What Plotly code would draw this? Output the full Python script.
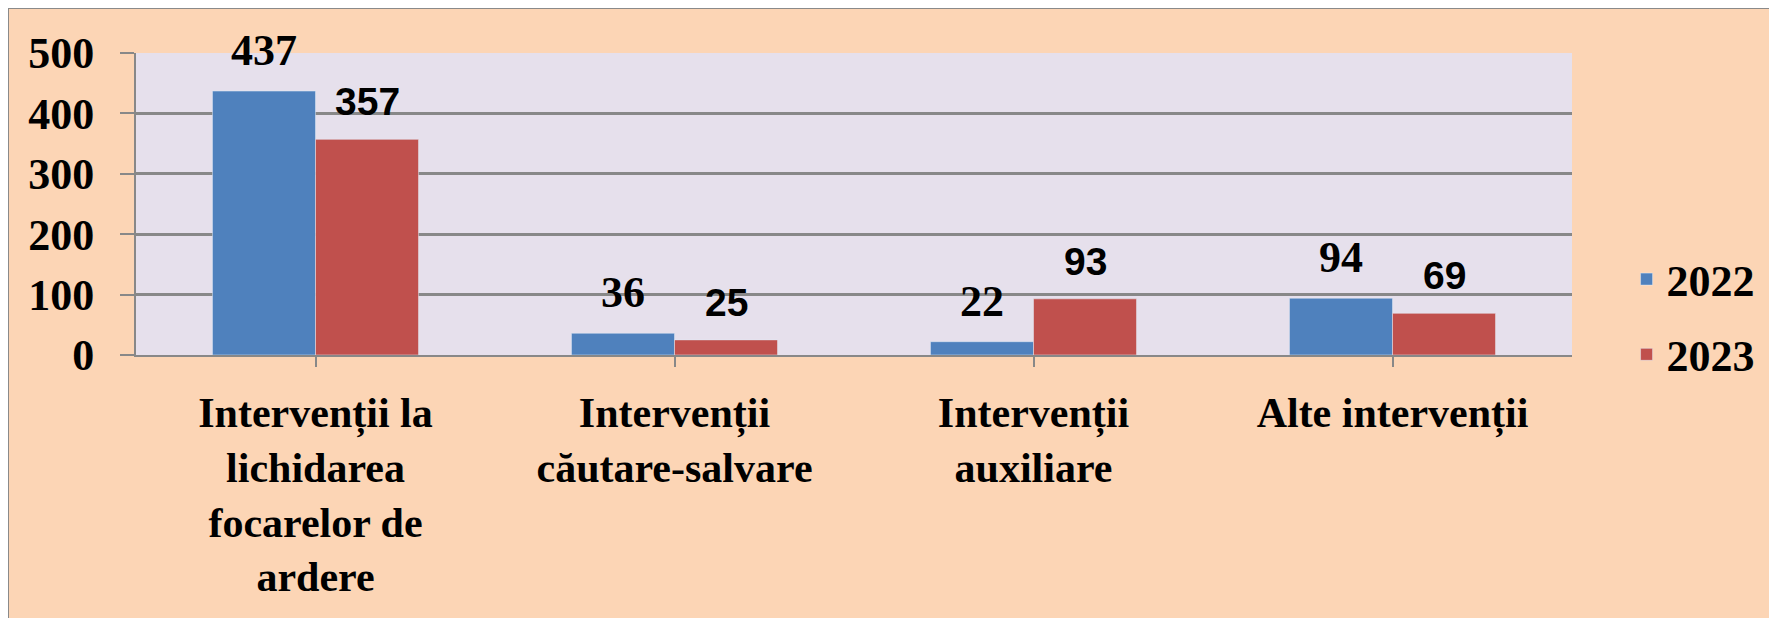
import plotly.graph_objects as go

categories = ["Intervenții la lichidarea focarelor de ardere",
              "Intervenții căutare-salvare",
              "Intervenții auxiliare",
              "Alte intervenții"]
tick_labels = ["Intervenții la<br>lichidarea<br>focarelor de<br>ardere",
               "Intervenții<br>căutare-salvare",
               "Intervenții<br>auxiliare",
               "Alte intervenții"]
v2022 = [437, 36, 22, 94]
v2023 = [357, 25, 93, 69]

blue = "#4F81BD"
red = "#C0504D"
grey = "#888888"
serif = "Liberation Serif"
bargap = 0.426

fig = go.Figure()
fig.add_trace(go.Bar(x=list(range(4)), y=v2022, name="2022", marker_color=blue,
                     legendgroup="a"))
fig.add_trace(go.Bar(x=list(range(4)), y=v2023, name="2023", marker_color=red,
                     legendgroup="b"))

# value labels above the bars
off = (1 - bargap) / 4
for i, v in enumerate(v2022):
    fig.add_annotation(x=i - off, y=v, text=str(v), showarrow=False, yanchor="bottom",
                       yshift=14, font=dict(family=serif, size=44, color="black", weight="bold"))
for i, v in enumerate(v2023):
    fig.add_annotation(x=i + off, y=v, text=str(v), showarrow=False, yanchor="bottom",
                       yshift=14, font=dict(family="Liberation Sans", size=39, color="black", weight="bold"))

# grey frame round the peach page, lavender plot area
fig.add_shape(type="rect", xref="paper", yref="paper", x0=-128/1436, x1=1.2, y0=-1, y1=1 + 45/302,
              fillcolor="#FCD5B5", line=dict(color="#8A8A8A", width=2), layer="below")
fig.add_shape(type="rect", xref="x domain", yref="y domain", x0=0, x1=1, y0=0, y1=1,
              fillcolor="#E6E0EC", line=dict(width=0), layer="below")

fig.update_layout(
    width=1769, height=610,
    margin=dict(l=128, r=205, t=45, b=263, autoexpand=False),
    paper_bgcolor="#FCD5B5", plot_bgcolor="#E6E0EC",
    barmode="group", bargap=bargap, bargroupgap=0,
    font=dict(family=serif, color="black"),
    legend=dict(x=1.038, y=0.3675, xanchor="left", yanchor="top",
                font=dict(family=serif, size=44, weight="bold"), tracegroupgap=15,
                bgcolor="rgba(0,0,0,0)"),
)
fig.update_xaxes(tickmode="array", tickvals=list(range(4)), ticktext=tick_labels,
                 range=[-0.5, 3.5], showline=True, linecolor=grey, linewidth=2,
                 ticks="outside", ticklen=10, tickwidth=2, tickcolor=grey, tickson="boundaries",
                 ticklabelstandoff=10, showgrid=False,
                 tickfont=dict(family=serif, size=42, weight="bold"))
fig.update_yaxes(range=[0, 500], dtick=100, showline=True, linecolor=grey, linewidth=2,
                 ticks="outside", ticklen=14, tickwidth=2, tickcolor=grey,
                 gridcolor=grey, gridwidth=3, zeroline=False, ticklabelstandoff=17,
                 tickfont=dict(family=serif, size=44, weight="bold"))

fig.write_html("out.html")
